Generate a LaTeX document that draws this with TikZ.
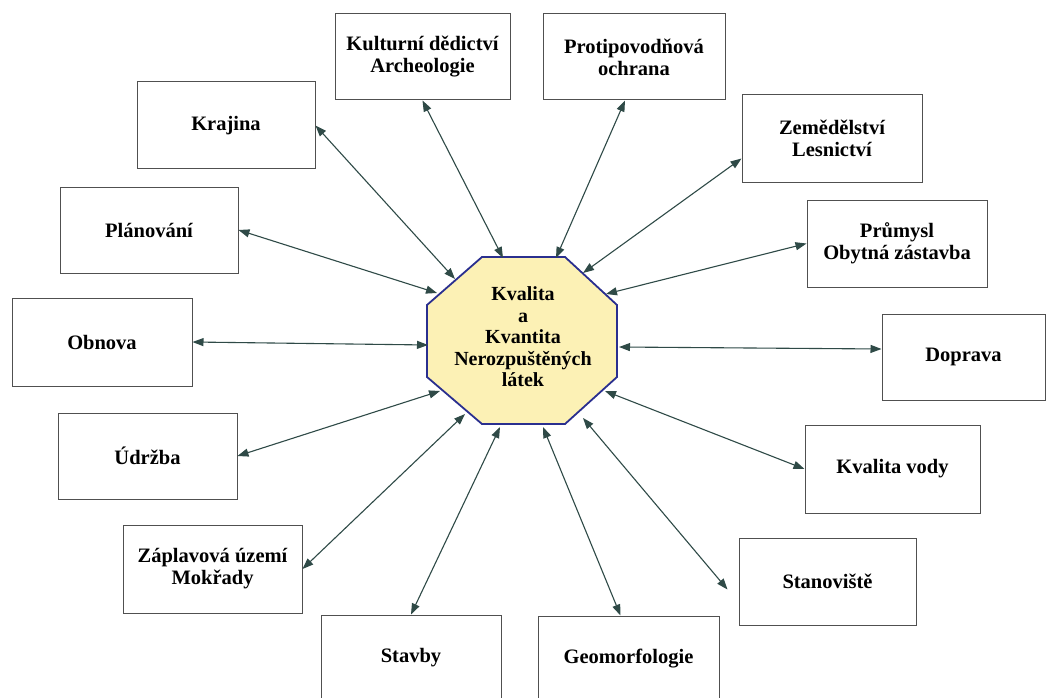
\documentclass[tikz,border=0pt]{standalone}
\usepackage{fontspec}
\setmainfont{Liberation Serif}
\usetikzlibrary{arrows.meta}
\definecolor{arrowc}{HTML}{2F4A47}
\definecolor{boxc}{HTML}{505050}
\definecolor{octfill}{HTML}{FCF1B5}
\definecolor{octline}{HTML}{2A2F8F}
\begin{document}
\begin{tikzpicture}[x=1pt,y=-1pt,
  box/.style={draw=boxc, line width=1pt, fill=white, align=center, inner sep=0pt,
    font=\fontsize{20.5}{22}\selectfont\bfseries},
  link/.style={draw=arrowc, line width=1.1pt,
    {Triangle[length=11pt,width=8pt]}-{Triangle[length=11pt,width=8pt]}},
  octtext/.style={align=center, inner sep=0pt, font=\fontsize{20}{21.5}\selectfont\bfseries}]
\useasboundingbox (0,0) rectangle (1047,698);
\fill[white] (0,0) rectangle (1047,698);

% boxes
\node[box, minimum width=175, minimum height=86] (kult) at (422.5,57) {Kulturní dědictví\\Archeologie};
\node[box, minimum width=182, minimum height=86] (prot) at (634,57) {Protipovodňová\\ochrana};
\node[box, minimum width=178, minimum height=87] (kraj) at (226,125.5) {Krajina};
\node[box, minimum width=180, minimum height=87] (zem) at (832,138.5) {Zemědělství\\Lesnictví};
\node[box, minimum width=178, minimum height=86] (plan) at (149,230) {Plánování};
\node[box, minimum width=180, minimum height=87] (prum) at (897,243.5) {Průmysl\\Obytná zástavba};
\node[box, minimum width=180, minimum height=88] (obn) at (102,342) {Obnova};
\node[box, minimum width=163, minimum height=86] (dop) at (963.5,357) {Doprava};
\node[box, minimum width=179, minimum height=86] (udr) at (147.5,456) {Údržba};
\node[box, minimum width=175, minimum height=88] (kval) at (892.5,469) {Kvalita vody};
\node[box, minimum width=179, minimum height=88] (zap) at (212.5,569) {Záplavová území\\Mokřady};
\node[box, minimum width=177, minimum height=87] (stan) at (827.5,581.5) {Stanoviště};
\node[box, minimum width=180, minimum height=86] (stav) at (411,658) {Stavby};
\node[box, minimum width=181, minimum height=86] (geo) at (628.5,659) {Geomorfologie};

% central octagon
\draw[draw=octline, line width=1.8pt, fill=octfill]
  (482,257) -- (565,257) -- (617,305) -- (617,377) -- (565,424) -- (482,424) -- (427,377) -- (427,305) -- cycle;
\node[octtext] (oct) at (523,337) {Kvalita\\a\\Kvantita\\Nerozpuštěných\\látek};

% connector ends on the octagon
\coordinate (o1) at (455,279);
\coordinate (o2) at (503,258);
\coordinate (o3) at (556,258);
\coordinate (o4) at (583,273);
\coordinate (o5) at (606,294);
\coordinate (o6) at (619,347);
\coordinate (o7) at (605,391);
\coordinate (o8) at (583,418);
\coordinate (o9) at (543,427);
\coordinate (o10) at (500,427);
\coordinate (o11) at (465,414);
\coordinate (o12) at (440,391);
\coordinate (o13) at (428,345);
\coordinate (o14) at (437,293);

% connectors
\draw[link] (kraj.east) -- (o1);
\draw[link] (kult.south) -- (o2);
\draw[link] ([xshift=-9pt]prot.south) -- (o3);
\draw[link] ([yshift=-20pt]zem.west) -- (o4);
\draw[link] (prum.west) -- (o5);
\draw[link] ([yshift=8pt]dop.west) -- (o6);
\draw[link] (kval.west) -- (o7);
\draw[link] ([xshift=-11pt,yshift=-8pt]stan.west) -- (o8);
\draw[link] ([xshift=-8pt]geo.north) -- (o9);
\draw[link] (stav.north) -- (o10);
\draw[link] (zap.east) -- (o11);
\draw[link] (udr.east) -- (o12);
\draw[link] (obn.east) -- (o13);
\draw[link] (plan.east) -- (o14);
\end{tikzpicture}
\end{document}
